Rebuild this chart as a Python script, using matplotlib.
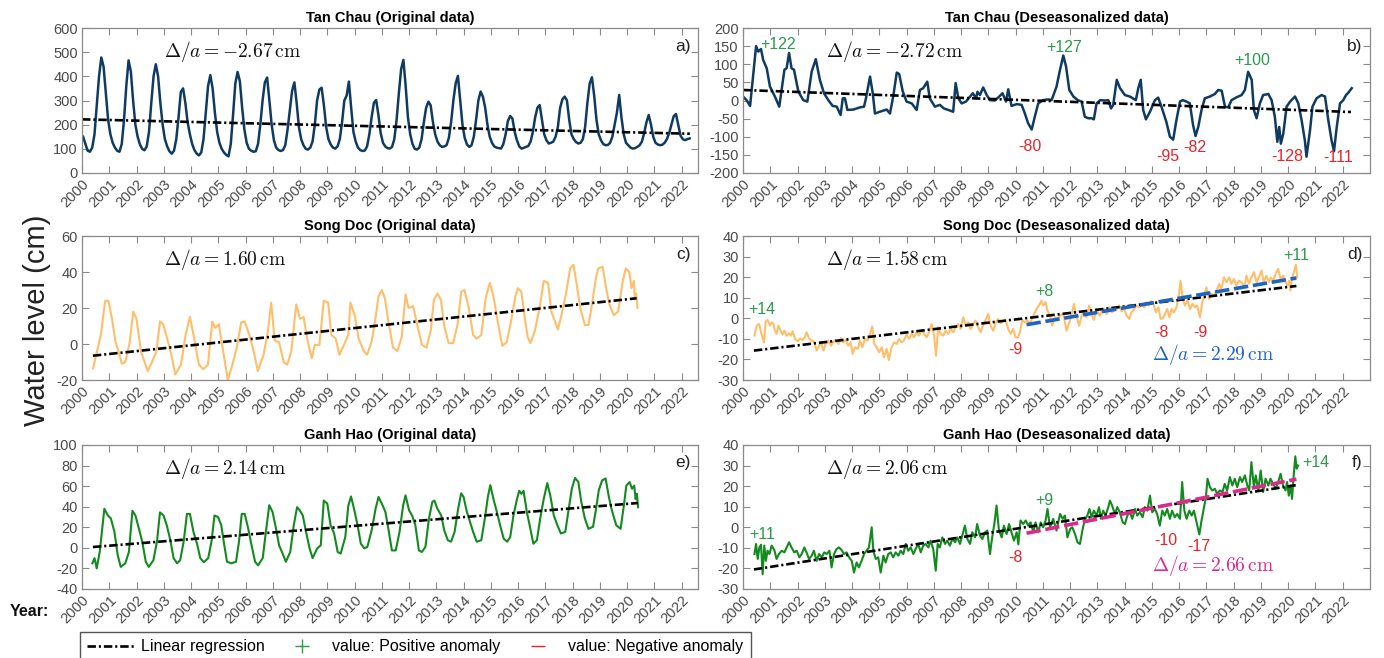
import numpy as np
import matplotlib
matplotlib.use("Agg")
import matplotlib.pyplot as plt
from matplotlib.lines import Line2D

plt.rcParams['font.family'] = ['Liberation Sans', 'DejaVu Sans']
plt.rcParams['mathtext.fontset'] = 'cm'
plt.rcParams['axes.unicode_minus'] = False

# ---------------- data ----------------
years = list(range(2000, 2023))
year_labels = [str(y) for y in years]

# Tan Chau, original monthly water level (cm), Jan 2000 .. Apr 2022
tanchau_orig_start = 2000
tanchau_orig = [
    150, 120, 92, 88, 105, 160, 280, 400, 478, 440, 330, 220,
    160, 125, 105, 92, 88, 120, 220, 360, 466, 420, 300, 200,
    150, 118, 100, 94, 110, 170, 290, 400, 450, 400, 290, 200,
    140, 110, 90, 80, 92, 140, 230, 335, 350, 290, 210, 160,
    120, 95, 80, 73, 85, 140, 250, 360, 405, 350, 250, 170,
    125, 100, 85, 75, 69, 120, 240, 370, 418, 380, 270, 180,
    125, 100, 92, 88, 90, 120, 200, 300, 375, 395, 300, 200,
    135, 105, 95, 91, 95, 115, 180, 260, 340, 375, 290, 190,
    140, 115, 100, 97, 105, 130, 200, 300, 345, 353, 280, 190,
    140, 118, 105, 101, 110, 140, 210, 300, 320, 378, 270, 170,
    130, 105, 95, 91, 93, 110, 160, 230, 290, 302, 240, 165,
    125, 110, 103, 101, 108, 140, 220, 330, 430, 468, 360, 230,
    160, 120, 100, 97, 105, 140, 210, 270, 295, 280, 210, 160,
    130, 115, 108, 110, 115, 145, 210, 300, 370, 402, 300, 200,
    145, 118, 108, 115, 150, 220, 300, 337, 316, 270, 200, 150,
    125, 110, 105, 103, 101, 120, 160, 215, 236, 225, 170, 135,
    110, 101, 104, 108, 112, 130, 170, 230, 270, 281, 220, 160,
    135, 122, 125, 130, 150, 190, 270, 305, 316, 300, 220, 160,
    140, 128, 122, 125, 140, 190, 290, 370, 396, 320, 220, 160,
    135, 120, 115, 116, 125, 150, 200, 250, 323, 230, 160, 125,
    115, 105, 101, 103, 108, 115, 130, 165, 210, 240, 200, 150,
    125, 118, 115, 117, 125, 140, 165, 200, 235, 244, 200, 155,
    140, 136, 140, 143,
]

# Tan Chau, deseasonalized (cm)
tanchau_des_t = [
    2000.00, 2000.13, 2000.26, 2000.48, 2000.56, 2000.66, 2000.74, 2000.87, 2000.99, 2001.17,
    2001.33, 2001.52, 2001.60, 2001.69, 2001.78, 2001.87, 2002.03, 2002.21, 2002.36, 2002.52,
    2002.67, 2002.82, 2002.97, 2003.13, 2003.29, 2003.44, 2003.58, 2003.66, 2003.74, 2003.83,
    2004.05, 2004.29, 2004.44, 2004.51, 2004.66, 2004.76, 2004.84, 2005.02, 2005.27, 2005.39,
    2005.51, 2005.64, 2005.73, 2005.86, 2006.00, 2006.19, 2006.37, 2006.49, 2006.61, 2006.76,
    2006.85, 2007.04, 2007.22, 2007.37, 2007.53, 2007.71, 2007.80, 2007.90, 2008.02, 2008.18,
    2008.33, 2008.43, 2008.55, 2008.60, 2008.69, 2008.81, 2008.94, 2009.06, 2009.24, 2009.40,
    2009.52, 2009.65, 2009.73, 2009.85, 2010.04, 2010.22, 2010.34, 2010.46, 2010.59, 2010.72,
    2010.83, 2011.01, 2011.20, 2011.32, 2011.50, 2011.63, 2011.75, 2011.85, 2011.97, 2012.12,
    2012.28, 2012.42, 2012.54, 2012.67, 2012.79, 2012.87, 2012.97, 2013.10, 2013.28, 2013.40,
    2013.50, 2013.58, 2013.71, 2013.83, 2014.01, 2014.19, 2014.41, 2014.50, 2014.59, 2014.68,
    2014.78, 2014.93, 2015.11, 2015.23, 2015.35, 2015.53, 2015.66, 2015.78, 2015.90, 2016.03,
    2016.13, 2016.27, 2016.39, 2016.51, 2016.60, 2016.70, 2016.82, 2016.94, 2017.13, 2017.31,
    2017.43, 2017.56, 2017.68, 2017.80, 2017.92, 2018.11, 2018.29, 2018.41, 2018.53, 2018.66,
    2018.74, 2018.84, 2018.96, 2019.08, 2019.27, 2019.39, 2019.51, 2019.60, 2019.67, 2019.73,
    2019.82, 2019.94, 2020.07, 2020.25, 2020.37, 2020.49, 2020.61, 2020.67, 2020.80, 2020.89,
    2021.04, 2021.22, 2021.35, 2021.47, 2021.59, 2021.68, 2021.78, 2021.90, 2022.02, 2022.12,
    2022.21, 2022.33,
]
tanchau_des_v = [
    11, 1, -15, 150, 135, 142, 112, 89, 38, 11,
    -17, 85, 89, 131, 89, 85, 25, 1, -3, 80,
    114, 57, 20, 1, -15, -17, -40, 6, 6, -26,
    -25, -19, -17, 6, 66, 20, -36, -31, -25, -36,
    11, 77, 73, 25, -3, -8, -26, 29, 34, 52,
    6, -17, -12, -22, -26, -31, 48, 6, -8, -3,
    11, 20, 6, 24, 15, 36, 15, 1, 0, 11,
    20, -3, 31, -15, -10, -12, -36, -63, -80, -40,
    -8, 1, 3, 1, 38, 85, 124, 94, 29, 11,
    1, -3, -45, -49, -49, -52, -8, 1, 0, 1,
    -22, -12, 57, 34, 15, 11, 1, 34, 57, -26,
    -52, -31, 1, 8, -17, -59, -100, -108, -54, -3,
    1, -3, -8, -68, -98, -73, -26, 6, 11, 18,
    29, 27, -17, -19, 1, 9, 15, 29, 79, 57,
    -26, -49, -8, 15, 18, 1, -45, -114, -73, -119,
    -91, -17, -3, 11, -8, -54, -110, -155, -82, -17,
    6, 15, 11, -54, -110, -140, -73, -8, 1, 15,
    22, 34,
]

# Song Doc, original (cm)
songdoc_orig_t = [
    2000.41, 2000.52, 2000.69, 2000.85, 2000.97, 2001.10, 2001.23, 2001.34, 2001.46, 2001.59,
    2001.75, 2001.88, 2002.00, 2002.16, 2002.41, 2002.57, 2002.73, 2002.86, 2002.98, 2003.09,
    2003.31, 2003.42, 2003.63, 2003.80, 2003.96, 2004.09, 2004.29, 2004.45, 2004.62, 2004.78,
    2004.89, 2005.02, 2005.16, 2005.35, 2005.52, 2005.68, 2005.84, 2005.97, 2006.14, 2006.30,
    2006.45, 2006.66, 2006.82, 2006.94, 2007.07, 2007.23, 2007.40, 2007.53, 2007.68, 2007.86,
    2008.00, 2008.13, 2008.26, 2008.43, 2008.54, 2008.71, 2008.87, 2009.03, 2009.15, 2009.31,
    2009.44, 2009.61, 2009.77, 2009.85, 2010.02, 2010.15, 2010.34, 2010.46, 2010.62, 2010.75,
    2010.88, 2011.00, 2011.11, 2011.24, 2011.41, 2011.57, 2011.73, 2011.87, 2011.98, 2012.15,
    2012.31, 2012.47, 2012.64, 2012.80, 2012.91, 2013.04, 2013.17, 2013.29, 2013.45, 2013.62,
    2013.78, 2013.91, 2014.03, 2014.19, 2014.35, 2014.48, 2014.65, 2014.81, 2014.96, 2015.09,
    2015.25, 2015.42, 2015.58, 2015.74, 2015.90, 2015.99, 2016.12, 2016.23, 2016.35, 2016.45,
    2016.61, 2016.81, 2016.94, 2017.10, 2017.22, 2017.38, 2017.46, 2017.59, 2017.75, 2017.91,
    2018.03, 2018.15, 2018.28, 2018.45, 2018.58, 2018.69, 2018.86, 2018.94, 2019.10, 2019.23,
    2019.35, 2019.51, 2019.67, 2019.84, 2019.95, 2020.08, 2020.16, 2020.25, 2020.28, 2020.33,
    2020.38,
]
songdoc_orig_v = [
    -13.5, -6, 5, 24, 24, 14, 1, -4, -11, -10,
    1, 18, 14, -4, -15, -10, -4, 12.5, 11, 5,
    -8, -17, -11.5, 5, 15, 5, -11.5, -14, -11.5, 12.5,
    9, 11, -2, -20, -11.5, -2, 12, 12.5, 5, -4,
    -15, -6, 7, 23, 2, 1, -10, -11.5, -4, 22,
    14, 15, 3, -8, -0.5, -0.5, 24, 23, 5, 3,
    -6, -0.5, 5, 23, 15, 3, -4, -6, 1, 12.5,
    26.5, 30, 25.5, 12.5, -2, -4, 4, 27.5, 20, 21,
    10, -0.5, -2, 8, 24.5, 28, 24.5, 10, 0.5, 0.5,
    11, 29, 30, 20, 5, 3, 5, 25.5, 34, 27,
    12.5, -1, 1, 12.5, 26.5, 31, 29, 16, 4, 0.5,
    7, 22, 35, 34, 18, 11.5, 8, 16, 27.5, 42,
    44, 33, 20, 10.5, 10.5, 20, 37, 42, 43, 31,
    22, 16, 18, 35, 42, 40, 31, 35, 25.5, 28,
    20,
]

# Song Doc, deseasonalized (cm)
songdoc_des_t = [
    2000.42, 2000.50, 2000.59, 2000.68, 2000.77, 2000.83, 2000.90, 2000.99, 2001.05, 2001.11,
    2001.17, 2001.23, 2001.30, 2001.38, 2001.45, 2001.52, 2001.60, 2001.69, 2001.76, 2001.82,
    2001.91, 2002.00, 2002.09, 2002.19, 2002.27, 2002.33, 2002.42, 2002.52, 2002.60, 2002.70,
    2002.79, 2002.86, 2002.95, 2003.03, 2003.13, 2003.23, 2003.31, 2003.40, 2003.50, 2003.59,
    2003.68, 2003.77, 2003.86, 2003.95, 2004.02, 2004.11, 2004.21, 2004.29, 2004.38, 2004.47,
    2004.57, 2004.66, 2004.74, 2004.82, 2004.90, 2004.99, 2005.09, 2005.17, 2005.27, 2005.35,
    2005.45, 2005.54, 2005.64, 2005.72, 2005.82, 2005.90, 2006.00, 2006.09, 2006.19, 2006.27,
    2006.37, 2006.45, 2006.55, 2006.65, 2006.74, 2006.82, 2006.92, 2007.00, 2007.08, 2007.16,
    2007.25, 2007.35, 2007.43, 2007.53, 2007.62, 2007.71, 2007.80, 2007.90, 2007.98, 2008.08,
    2008.17, 2008.26, 2008.35, 2008.45, 2008.53, 2008.63, 2008.72, 2008.81, 2008.90, 2009.00,
    2009.08, 2009.18, 2009.27, 2009.36, 2009.45, 2009.55, 2009.63, 2009.73, 2009.82, 2009.91,
    2010.00, 2010.07, 2010.16, 2010.24, 2010.34, 2010.43, 2010.53, 2010.62, 2010.71, 2010.80,
    2010.87, 2010.95, 2011.01, 2011.10, 2011.17, 2011.26, 2011.34, 2011.44, 2011.53, 2011.63,
    2011.75, 2011.87, 2011.97, 2012.06, 2012.14, 2012.24, 2012.33, 2012.42, 2012.51, 2012.60,
    2012.70, 2012.79, 2012.87, 2012.97, 2013.07, 2013.15, 2013.24, 2013.34, 2013.44, 2013.52,
    2013.62, 2013.71, 2013.80, 2013.89, 2013.97, 2014.07, 2014.17, 2014.25, 2014.35, 2014.44,
    2014.53, 2014.62, 2014.72, 2014.81, 2014.89, 2014.96, 2015.05, 2015.15, 2015.24, 2015.32,
    2015.40, 2015.48, 2015.56, 2015.64, 2015.72, 2015.81, 2015.90, 2015.97, 2016.05, 2016.13,
    2016.21, 2016.30, 2016.40, 2016.49, 2016.58, 2016.66, 2016.76, 2016.85, 2016.92, 2017.00,
    2017.10, 2017.19, 2017.27, 2017.37, 2017.47, 2017.55, 2017.64, 2017.74, 2017.83, 2017.92,
    2018.01, 2018.10, 2018.19, 2018.29, 2018.39, 2018.47, 2018.56, 2018.65, 2018.74, 2018.84,
    2018.92, 2019.02, 2019.10, 2019.20, 2019.29, 2019.36, 2019.45, 2019.54, 2019.63, 2019.72,
    2019.81, 2019.90, 2019.97, 2020.03, 2020.08, 2020.14, 2020.21, 2020.28, 2020.33,
]
songdoc_des_v = [
    -8.4, -3.6, -2.8, -7.6, -11.7, -1.5, -0.8, -3.6, -2.0, -2.4,
    -6.0, -7.6, -3.6, -6.0, -7.9, -6.0, -8.4, -7.3, -8.4, -6.3,
    -10.0, -11.2, -10.0, -10.5, -9.2, -6.8, -9.6, -10.9, -11.2, -15.7,
    -13.3, -11.7, -15.7, -12.5, -10.9, -13.3, -11.7, -10.5, -12.5, -9.6,
    -11.7, -10.5, -13.3, -11.7, -17.3, -14.1, -14.9, -10.9, -14.1, -10.0,
    -10.9, -7.6, -4.0, -12.5, -14.1, -16.5, -14.1, -19.0, -14.9, -20.3,
    -14.1, -11.7, -12.5, -10.0, -11.7, -10.9, -7.9, -10.0, -7.6, -9.2,
    -6.8, -8.4, -6.0, -7.6, -9.2, -6.8, -2.8, -7.6, -18.2, -4.4,
    -7.6, -8.4, -6.0, -7.6, -5.2, -6.8, -4.4, -2.8, -5.2, 0.5,
    -3.6, -2.0, -5.2, -2.8, -1.1, -4.4, -6.8, -2.8, -0.8, 2.1,
    -3.6, -6.0, -2.0, -0.3, -2.4, -1.1, -0.8, -5.2, -7.6, -5.2,
    -9.2, -9.5, -6.8, -0.8, -2.0, -1.1, -2.8, 0.5, 2.9, 5.3,
    6.6, 8.5, 6.2, 7.8, 3.7, 1.3, -3.6, 0.5, -0.3, 1.3,
    2.1, -6.0, -2.0, 2.1, 7.0, 0.5, -3.6, 1.3, 2.9, 0.5,
    6.2, 2.1, -0.8, 4.5, 1.3, 2.9, 4.5, 2.1, 5.3, 2.9,
    3.7, 4.5, 6.2, 3.4, 5.3, 1.3, -0.3, 2.9, 4.5, 6.2,
    5.3, 7.0, 5.3, 7.8, 6.2, 8.3, 7.0, 2.9, 5.3, -0.3,
    0.0, 2.1, 4.5, 0.5, 4.5, 2.9, 5.3, 9.4, 18.3, 9.4,
    6.2, 8.6, 4.5, 7.0, 5.3, 6.2, 0.5, 7.8, 11.0, 15.0,
    9.4, 11.8, 11.0, 13.5, 16.7, 14.3, 19.9, 17.5, 19.9, 16.7,
    19.1, 15.9, 18.3, 17.5, 15.0, 20.7, 16.7, 19.9, 22.4, 17.5,
    19.9, 23.2, 17.5, 20.7, 17.5, 19.9, 18.3, 21.6, 24.0, 19.1,
    20.7, 17.5, 15.9, 18.3, 13.5, 19.9, 22.4, 26.0, 19.9,
]

# Ganh Hao, original (cm)
ganhhao_orig_t = [
    2000.38, 2000.46, 2000.54, 2000.65, 2000.82, 2000.95, 2001.06, 2001.19, 2001.31, 2001.42,
    2001.59, 2001.72, 2001.85, 2001.96, 2002.09, 2002.21, 2002.34, 2002.45, 2002.62, 2002.75,
    2002.86, 2002.99, 2003.11, 2003.24, 2003.36, 2003.49, 2003.60, 2003.73, 2003.85, 2003.96,
    2004.09, 2004.22, 2004.34, 2004.47, 2004.63, 2004.75, 2004.86, 2004.99, 2005.11, 2005.20,
    2005.32, 2005.48, 2005.65, 2005.76, 2005.86, 2005.97, 2006.10, 2006.22, 2006.35, 2006.46,
    2006.63, 2006.76, 2006.87, 2006.99, 2007.12, 2007.23, 2007.36, 2007.48, 2007.64, 2007.77,
    2007.89, 2007.99, 2008.10, 2008.22, 2008.35, 2008.46, 2008.63, 2008.76, 2008.87, 2009.00,
    2009.12, 2009.25, 2009.38, 2009.49, 2009.66, 2009.77, 2009.87, 2009.98, 2010.11, 2010.23,
    2010.36, 2010.47, 2010.64, 2010.77, 2010.88, 2011.00, 2011.13, 2011.24, 2011.37, 2011.51,
    2011.65, 2011.78, 2011.87, 2012.00, 2012.11, 2012.23, 2012.36, 2012.47, 2012.60, 2012.73,
    2012.85, 2012.93, 2013.04, 2013.18, 2013.29, 2013.42, 2013.54, 2013.67, 2013.80, 2013.91,
    2014.00, 2014.12, 2014.24, 2014.35, 2014.48, 2014.65, 2014.78, 2014.89, 2014.98, 2015.11,
    2015.22, 2015.34, 2015.47, 2015.60, 2015.71, 2015.83, 2015.96, 2016.04, 2016.12, 2016.20,
    2016.32, 2016.45, 2016.56, 2016.69, 2016.81, 2016.94, 2017.07, 2017.18, 2017.31, 2017.44,
    2017.57, 2017.73, 2017.84, 2017.97, 2018.09, 2018.21, 2018.32, 2018.45, 2018.58, 2018.75,
    2018.86, 2018.96, 2019.08, 2019.21, 2019.33, 2019.44, 2019.60, 2019.76, 2019.88, 2019.97,
    2020.09, 2020.18, 2020.26, 2020.31, 2020.36, 2020.40,
]
ganhhao_orig_v = [
    -15, -10, -20, -4, 38, 31.5, 28.5, 15.5, -7, -18.5,
    -15, -4, 36, 31.5, 18.5, 6, -13.5, -18.5, -12, 6,
    34.5, 31.5, 22, 7.5, -10, -15, -12, 6, 33, 33,
    15.5, 4, -10, -14, -10, 6, 31.5, 30, 22, 6,
    -13.5, -15, -13.5, 6, 33, 33, 18.5, 2.5, -13.5, -17,
    -10, 18.5, 41.5, 35, 18.5, 2.5, -5.5, -13.5, -4, 22,
    39.5, 36.5, 31.5, 15.5, -0.5, -10, -0.5, 2.5, 46, 43,
    22, 14, -4, -5.5, 10.5, 41, 50, 38, 22, 4,
    -0.5, 1, 18.5, 38, 49.5, 43, 35, 18.5, -2.5, -2.5,
    15.5, 41, 51, 36.5, 31.5, 22, -2.5, -4, 1, 28.5,
    44.5, 46, 38, 31.5, 17, 7.5, 6, 15.5, 38, 53,
    49.5, 35, 25, 15.5, 6, 7.5, 28.5, 49.5, 61, 46,
    35, 22, 9, 6, 10.5, 31.5, 47.5, 55.5, 52.5, 55.5,
    35, 18.5, 4, 7.5, 28.5, 47.5, 63, 51, 31.5, 22,
    14, 15.5, 35, 57.5, 68, 64, 44.5, 28.5, 18.5, 20.5,
    38, 56, 65.5, 67.5, 49.5, 36.5, 22, 18.5, 41, 60.5,
    64, 57.5, 60.5, 47.5, 52.5, 39.5,
]

# Ganh Hao, deseasonalized (cm)
ganhhao_des_t = [
    2000.42, 2000.48, 2000.54, 2000.60, 2000.66, 2000.72, 2000.78, 2000.84, 2000.90, 2000.97,
    2001.05, 2001.15, 2001.23, 2001.32, 2001.42, 2001.52, 2001.60, 2001.69, 2001.78, 2001.88,
    2001.97, 2002.07, 2002.15, 2002.25, 2002.33, 2002.42, 2002.52, 2002.60, 2002.70, 2002.79,
    2002.89, 2002.98, 2003.07, 2003.17, 2003.25, 2003.34, 2003.43, 2003.52, 2003.62, 2003.70,
    2003.80, 2003.89, 2003.99, 2004.07, 2004.17, 2004.25, 2004.35, 2004.44, 2004.53, 2004.62,
    2004.72, 2004.78, 2004.87, 2004.96, 2005.05, 2005.15, 2005.23, 2005.33, 2005.42, 2005.51,
    2005.60, 2005.70, 2005.78, 2005.88, 2005.97, 2006.06, 2006.15, 2006.25, 2006.33, 2006.43,
    2006.52, 2006.61, 2006.70, 2006.80, 2006.88, 2006.98, 2007.07, 2007.14, 2007.22, 2007.31,
    2007.41, 2007.49, 2007.59, 2007.68, 2007.78, 2007.86, 2007.96, 2008.04, 2008.14, 2008.23,
    2008.33, 2008.41, 2008.51, 2008.59, 2008.69, 2008.78, 2008.88, 2008.96, 2009.06, 2009.14,
    2009.22, 2009.30, 2009.39, 2009.49, 2009.57, 2009.67, 2009.76, 2009.85, 2009.94, 2010.04,
    2010.10, 2010.18, 2010.28, 2010.37, 2010.46, 2010.55, 2010.65, 2010.73, 2010.83, 2010.92,
    2011.01, 2011.10, 2011.17, 2011.26, 2011.38, 2011.50, 2011.63, 2011.73, 2011.81, 2011.90,
    2012.00, 2012.08, 2012.18, 2012.27, 2012.36, 2012.45, 2012.53, 2012.63, 2012.71, 2012.79,
    2012.87, 2012.97, 2013.06, 2013.13, 2013.21, 2013.30, 2013.40, 2013.46, 2013.54, 2013.64,
    2013.73, 2013.82, 2013.93, 2014.01, 2014.10, 2014.19, 2014.28, 2014.38, 2014.46, 2014.56,
    2014.66, 2014.74, 2014.83, 2014.93, 2015.01, 2015.11, 2015.19, 2015.29, 2015.38, 2015.47,
    2015.56, 2015.66, 2015.74, 2015.84, 2015.93, 2016.03, 2016.11, 2016.19, 2016.27, 2016.37,
    2016.46, 2016.54, 2016.64, 2016.74, 2016.82, 2016.90, 2016.98, 2017.04, 2017.13, 2017.21,
    2017.31, 2017.39, 2017.49, 2017.59, 2017.67, 2017.76, 2017.86, 2017.95, 2018.04, 2018.13,
    2018.23, 2018.31, 2018.41, 2018.50, 2018.57, 2018.65, 2018.74, 2018.81, 2018.90, 2018.99,
    2019.08, 2019.17, 2019.27, 2019.35, 2019.45, 2019.54, 2019.63, 2019.72, 2019.81, 2019.90,
    2019.96, 2020.02, 2020.08, 2020.14, 2020.21, 2020.26, 2020.31, 2020.36,
]
ganhhao_des_v = [
    -13.0, -8.1, -15.4, -9.8, -8.5, -22.8, -8.9, -16.3, -11.4, -13.0,
    -8.9, -11.1, -15.4, -13.0, -11.4, -12.2, -9.8, -7.3, -9.8, -12.2,
    -11.4, -14.6, -13.0, -9.8, -12.2, -15.4, -13.8, -11.4, -16.3, -13.0,
    -14.6, -12.2, -13.0, -11.4, -19.5, -13.0, -10.6, -9.8, -11.1, -13.0,
    -12.2, -14.6, -16.3, -22.0, -17.1, -19.5, -16.3, -13.0, -11.4, -9.8,
    0.0, -11.4, -15.4, -14.6, -22.0, -13.8, -17.1, -13.0, -12.2, -14.6,
    -12.2, -13.8, -11.4, -13.0, -8.1, -11.4, -9.8, -13.0, -10.6, -8.1,
    -12.2, -8.9, -8.1, -9.8, -6.5, -10.6, -21.1, -8.1, -9.8, -4.9,
    -8.1, -6.5, -8.9, -5.7, -7.3, -4.9, -8.1, -4.1, 0.8, -5.7,
    -8.1, -2.4, -4.9, 1.6, -4.1, -5.7, -2.4, -1.6, -13.0, -4.9,
    1.6, 10.6, -1.6, -4.9, 0.8, -3.3, 1.6, -2.4, -6.5, -2.4,
    -8.3, 3.3, 1.6, 3.3, 0.8, 2.4, -2.4, 2.4, -2.4, 2.4,
    0.0, 3.3, 8.9, 0.0, 4.1, -1.6, 6.5, 4.1, 5.7, -4.9,
    -0.8, 0.0, -3.3, -7.3, -8.1, -1.6, 3.3, 5.7, 8.9, 4.9,
    8.1, 5.7, 9.8, 4.1, 8.1, 5.7, 9.8, 13.0, 10.6, 6.5,
    9.8, 7.3, 2.4, 1.6, 5.7, 7.3, 4.1, 8.9, 5.7, 7.3,
    4.9, 9.8, 8.1, 15.4, 7.3, 8.9, 6.5, 0.8, 8.1, 5.7,
    8.9, 4.1, 8.1, 4.9, 6.5, 4.1, 22.0, 8.1, 4.1, 8.1,
    5.7, 8.1, 2.4, -3.5, 3.3, 8.9, 14.6, 23.6, 19.5, 17.9,
    18.7, 16.3, 17.9, 17.1, 21.1, 17.9, 24.4, 20.3, 23.6, 19.5,
    24.4, 22.0, 25.2, 20.3, 17.9, 31.7, 19.5, 25.2, 17.9, 27.6,
    17.1, 23.6, 20.3, 23.6, 21.1, 18.7, 22.0, 26.0, 20.3, 17.9,
    22.0, 15.4, 20.3, 13.8, 26.8, 34.5, 28.5, 30.0,
]

# Linear regression end points (year, cm)
trend_tanchau_orig = ([2000.0, 2022.3], [222.0, 162.5])
trend_tanchau_des = ([2000.0, 2022.3], [29.0, -31.7])
trend_songdoc_orig = ([2000.4, 2020.35], [-6.5, 25.4])
trend_songdoc_des = ([2000.4, 2020.3], [-15.7, 15.7])
trend_songdoc_recent = ([2010.4, 2020.3], [-3.1, 19.6])
trend_ganhhao_orig = ([2000.4, 2020.4], [0.8, 43.6])
trend_ganhhao_des = ([2000.4, 2020.3], [-20.5, 20.5])
trend_ganhhao_recent = ([2010.4, 2020.3], [-2.9, 23.4])

rate_labels = ['-2.67', '-2.72', '1.60', '1.58', '2.14', '2.06']

# Anomaly annotations: (text, year, y position)
anom_tanchau = [('+122', 2001.28, 154), ('+127', 2011.77, 145), ('+100', 2018.67, 109),
                ('-80', 2010.52, -126), ('-95', 2015.58, -154), ('-82', 2016.58, -129),
                ('-128', 2019.95, -154), ('-111', 2021.82, -157)]
anom_songdoc = [('+14', 2000.7, 4.5), ('+8', 2011.07, 12.8), ('-9', 2010.0, -15.4),
                ('-8', 2015.36, -6.7), ('-9', 2016.76, -6.7), ('+11', 2020.31, 30.3)]
anom_ganhhao = [('+11', 2000.7, -3.7), ('+9', 2011.07, 12.8), ('-8', 2010.0, -14.9),
                ('-10', 2015.51, -6.2), ('-17', 2016.72, -9.3), ('+14', 2021.0, 31.3)]

# ---------------- style ----------------
C_TANCHAU = '#0f3b63'
C_SONGDOC = '#ffbe6a'
C_GANHHAO = '#138a1f'
C_POS = '#2b9a4c'
C_NEG = '#e8232b'
C_BLUE = '#1f63c4'
C_MAGENTA = '#e0288c'
SPINE = '#8a8a8a'
TICKLBL = '#4a4a4a'
DASHDOT = (0, (3.2, 1.1, 0.8, 1.1))

W, H = 1384, 658
fig = plt.figure(figsize=(W / 100, H / 100), dpi=100)


def box(l, t, r, b):
    return [l / W, 1 - b / H, (r - l) / W, (b - t) / H]


ax_a = fig.add_axes(box(82, 28, 698, 173))
ax_b = fig.add_axes(box(743, 28, 1370, 173))
ax_c = fig.add_axes(box(82, 236, 698, 380))
ax_d = fig.add_axes(box(743, 236, 1370, 380))
ax_e = fig.add_axes(box(82, 445, 698, 589))
ax_f = fig.add_axes(box(743, 445, 1370, 589))


def style(ax, title, ylim, ystep, xmax, letter, rate):
    ax.set_xlim(2000, xmax)
    ax.set_ylim(*ylim)
    ax.set_xticks(years)
    ax.set_xticklabels(year_labels, rotation=45, ha='right', rotation_mode='anchor')
    yt = np.arange(ylim[0], ylim[1] + 0.1, ystep)
    ax.set_yticks(yt)
    ax.set_yticklabels([str(int(v)) for v in yt])
    ax.tick_params(direction='in', top=True, right=True, length=5, width=0.8,
                   color=SPINE, labelcolor=TICKLBL, labelsize=10.5, pad=3)
    for s in ax.spines.values():
        s.set_color(SPINE)
        s.set_linewidth(0.9)
    ax.set_title(title, fontsize=10.5, fontweight='bold', pad=4)
    ax.text(0.988, 0.875, letter, transform=ax.transAxes, ha='right', va='center',
            fontsize=12.5, color='#222222')
    ax.text(0.133, 0.835, r'$\Delta/a = %s\,\mathrm{cm}$' % rate,
            transform=ax.transAxes, ha='left', va='center', fontsize=14, color='#111111')


def annotate(ax, items):
    for txt, x, y in items:
        ax.text(x, y, txt, ha='center', va='center', fontsize=11.5,
                color=C_POS if txt.startswith('+') else C_NEG)


# a) Tan Chau original
t_a = tanchau_orig_start + (np.arange(len(tanchau_orig)) + 0.5) / 12
ax_a.plot(t_a, tanchau_orig, color=C_TANCHAU, lw=1.8)
ax_a.plot(*trend_tanchau_orig, color='black', lw=1.9, ls=DASHDOT)
style(ax_a, 'Tan Chau (Original data)', (0, 600), 100, 2022.6, 'a)', rate_labels[0])

# b) Tan Chau deseasonalized
ax_b.plot(tanchau_des_t, tanchau_des_v, color=C_TANCHAU, lw=1.8)
ax_b.plot(*trend_tanchau_des, color='black', lw=1.9, ls=DASHDOT)
style(ax_b, 'Tan Chau (Deseasonalized data)', (-200, 200), 50, 2023, 'b)', rate_labels[1])
annotate(ax_b, anom_tanchau)

# c) Song Doc original
ax_c.plot(songdoc_orig_t, songdoc_orig_v, color=C_SONGDOC, lw=1.5)
ax_c.plot(*trend_songdoc_orig, color='black', lw=1.9, ls=DASHDOT)
style(ax_c, 'Song Doc (Original data)', (-20, 60), 20, 2022.6, 'c)', rate_labels[2])

# d) Song Doc deseasonalized
ax_d.plot(songdoc_des_t, songdoc_des_v, color=C_SONGDOC, lw=1.5)
ax_d.plot(*trend_songdoc_des, color='black', lw=1.9, ls=DASHDOT)
ax_d.plot(*trend_songdoc_recent, color=C_BLUE, lw=2.6, ls=(0, (4, 1.3)))
style(ax_d, 'Song Doc (Deseasonalized data)', (-30, 40), 10, 2023, 'd)', rate_labels[3])
ax_d.text(0.652, 0.174, r'$\Delta/a = 2.29\,\mathrm{cm}$', transform=ax_d.transAxes,
          ha='left', va='center', fontsize=14, color=C_BLUE)
annotate(ax_d, anom_songdoc)

# e) Ganh Hao original
ax_e.plot(ganhhao_orig_t, ganhhao_orig_v, color=C_GANHHAO, lw=1.5)
ax_e.plot(*trend_ganhhao_orig, color='black', lw=1.9, ls=DASHDOT)
style(ax_e, 'Ganh Hao (Original data)', (-40, 100), 20, 2022.6, 'e)', rate_labels[4])

# f) Ganh Hao deseasonalized
ax_f.plot(ganhhao_des_t, ganhhao_des_v, color=C_GANHHAO, lw=1.5)
ax_f.plot(*trend_ganhhao_des, color='black', lw=1.9, ls=DASHDOT)
ax_f.plot(*trend_ganhhao_recent, color=C_MAGENTA, lw=2.6, ls=(0, (4, 1.3)))
style(ax_f, 'Ganh Hao (Deseasonalized data)', (-30, 40), 10, 2023, 'f)', rate_labels[5])
ax_f.text(0.652, 0.16, r'$\Delta/a = 2.66\,\mathrm{cm}$', transform=ax_f.transAxes,
          ha='left', va='center', fontsize=14, color=C_MAGENTA)
annotate(ax_f, anom_ganhhao)

# shared labels
fig.text(37 / W, 1 - 320 / H, 'Water level (cm)', rotation=90, ha='center', va='center',
         fontsize=21, color='#222222')
fig.text(10 / W, 1 - 611 / H, 'Year:', ha='left', va='center', fontsize=11.5,
         fontweight='bold', color='#111111')

handles = [Line2D([], [], color='black', lw=1.9, ls=DASHDOT),
           Line2D([], [], color=C_POS, marker='+', ls='none', markersize=10, mew=1.0),
           Line2D([], [], color=C_NEG, marker='_', ls='none', markersize=10, mew=1.0)]
labels = ['Linear regression', 'value: Positive anomaly', 'value: Negative anomaly']
fig.legend(handles, labels, loc='upper left', bbox_to_anchor=(80 / W, 1 - 632 / H),
           ncol=3, frameon=True, fancybox=False, edgecolor='#555555', framealpha=1,
           fontsize=11.5, handlelength=2.9, columnspacing=0.9, borderpad=0.45,
           handletextpad=0.45, borderaxespad=0)

fig.savefig('out.png', dpi=100)
